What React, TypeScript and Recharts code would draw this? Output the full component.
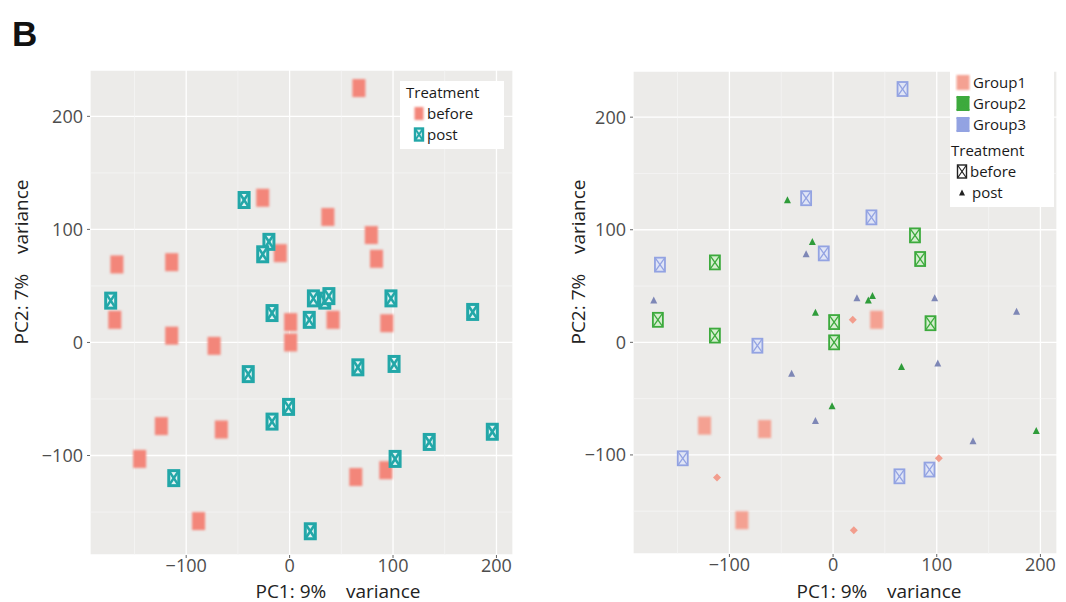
import React from "react";
import { CartesianGrid, ReferenceLine, Scatter, ScatterChart, XAxis, YAxis } from "recharts";

type Pt = { pc1: number; pc2: number };

// samples by group and treatment
const g1Before: Pt[] = [
  { pc1: -124, pc2: -74 },
  { pc1: -66, pc2: -77 },
  { pc1: -88, pc2: -158 },
  { pc1: 42, pc2: 20 },
];
const g1Post: Pt[] = [
  { pc1: 19, pc2: 20 },
  { pc1: 102, pc2: -103 },
  { pc1: -112, pc2: -120 },
  { pc1: 20, pc2: -167 },
];
const g2Before: Pt[] = [
  { pc1: -114, pc2: 71 },
  { pc1: 79, pc2: 95 },
  { pc1: 84, pc2: 74 },
  { pc1: -169, pc2: 20 },
  { pc1: -114, pc2: 6 },
  { pc1: 1, pc2: 18 },
  { pc1: 1, pc2: 0 },
  { pc1: 94, pc2: 17 },
];
const g2Post: Pt[] = [
  { pc1: -44, pc2: 126 },
  { pc1: -20, pc2: 89 },
  { pc1: -17, pc2: 26 },
  { pc1: 34, pc2: 37 },
  { pc1: 38, pc2: 41 },
  { pc1: 66, pc2: -22 },
  { pc1: -1, pc2: -57 },
  { pc1: 196, pc2: -79 },
];
const g3Before: Pt[] = [
  { pc1: 67, pc2: 225 },
  { pc1: -26, pc2: 128 },
  { pc1: 37, pc2: 111 },
  { pc1: -9, pc2: 79 },
  { pc1: -167, pc2: 69 },
  { pc1: -73, pc2: -3 },
  { pc1: -145, pc2: -103 },
  { pc1: 64, pc2: -119 },
  { pc1: 93, pc2: -113 },
];
const g3Post: Pt[] = [
  { pc1: -26, pc2: 78 },
  { pc1: -173, pc2: 37 },
  { pc1: 23, pc2: 39 },
  { pc1: 98, pc2: 39 },
  { pc1: 177, pc2: 27 },
  { pc1: 101, pc2: -19 },
  { pc1: -40, pc2: -28 },
  { pc1: -17, pc2: -70 },
  { pc1: 135, pc2: -88 },
];

const allBefore = [...g1Before, ...g2Before, ...g3Before];
const allPost = [...g1Post, ...g2Post, ...g3Post];

const xTicks = [-100, 0, 100, 200];
const yTicks = [-100, 0, 100, 200];
const xMinor = [-150, -50, 50, 150];
const yMinor = [-150, -50, 50, 150];
const xDomain: [number, number] = [-193, 216];
const yDomain: [number, number] = [-188, 241];

const FONT = "'Open Sans', 'Noto Sans', sans-serif";
const fmt = (v: number) => (v < 0 ? `\u2212${Math.abs(v)}` : String(v));

function SolidBox({ cx, cy, fill, w, h }: any) {
  if (cx == null || cy == null) return null;
  return (
    <rect x={cx - w / 2} y={cy - h / 2} width={w} height={h} fill={fill} style={{ filter: "blur(0.9px)" }} />
  );
}

function CrossBox({ cx, cy, color, fill, w, h, sw, dw }: any) {
  if (cx == null || cy == null) return null;
  const x0 = cx - w / 2;
  const y0 = cy - h / 2;
  return (
    <g>
      <rect x={x0} y={y0} width={w} height={h} fill={fill} stroke={color} strokeWidth={sw} />
      <line x1={x0} y1={y0} x2={x0 + w} y2={y0 + h} stroke={color} strokeWidth={dw} />
      <line x1={x0 + w} y1={y0} x2={x0} y2={y0 + h} stroke={color} strokeWidth={dw} />
    </g>
  );
}

function Tri({ cx, cy, color, s }: any) {
  if (cx == null || cy == null) return null;
  const pts = `${cx},${cy - s * 0.6} ${cx + s / 2},${cy + s * 0.4} ${cx - s / 2},${cy + s * 0.4}`;
  return <polygon points={pts} fill={color} />;
}

function Dot({ cx, cy, color }: any) {
  if (cx == null || cy == null) return null;
  return (
    <polygon
      points={`${cx},${cy - 4} ${cx + 4},${cy} ${cx},${cy + 4} ${cx - 4},${cy}`}
      fill={color}
      style={{ filter: "blur(0.6px)" }}
    />
  );
}

function Panel({
  left,
  width,
  top,
  right,
  yWidth,
  xHeight,
  children,
}: {
  left: number;
  width: number;
  top: number;
  right: number;
  yWidth: number;
  xHeight: number;
  children: React.ReactNode;
}) {
  return (
    <div style={{ position: "absolute", left, top: 0 }}>
      <ScatterChart width={width} height={602} margin={{ top, right, bottom: 0, left: 0 }}>
        <CartesianGrid fill="#ecebe9" stroke="#ffffff" strokeWidth={1.3} />
        {xMinor.map((v) => (
          <ReferenceLine key={`x${v}`} x={v} stroke="#f7f7f6" strokeWidth={0.7} />
        ))}
        {yMinor.map((v) => (
          <ReferenceLine key={`y${v}`} y={v} stroke="#f7f7f6" strokeWidth={0.7} />
        ))}
        <XAxis
          type="number"
          dataKey="pc1"
          domain={xDomain}
          ticks={xTicks}
          allowDataOverflow
          height={xHeight}
          axisLine={false}
          tickSize={3}
          tickMargin={1}
          tickLine={{ stroke: "#666" }}
          tickFormatter={fmt}
          tick={{ fill: "#4d4d4d", fontSize: 18, fontFamily: FONT }}
        />
        <YAxis
          type="number"
          dataKey="pc2"
          domain={yDomain}
          ticks={yTicks}
          allowDataOverflow
          width={yWidth}
          axisLine={false}
          tickSize={3}
          tickMargin={4}
          tickLine={{ stroke: "#666" }}
          tickFormatter={fmt}
          tick={{ fill: "#4d4d4d", fontSize: 18, fontFamily: FONT }}
        />
        {children}
      </ScatterChart>
    </div>
  );
}

const txt: React.CSSProperties = {
  position: "absolute",
  fontFamily: FONT,
  color: "#1a1a1a",
  whiteSpace: "pre",
};

const legTxt: React.CSSProperties = { ...txt, fontSize: 15, lineHeight: "21px" };

function KeySvg({ children }: { children: React.ReactNode }) {
  return (
    <svg width={16} height={21} style={{ display: "block" }}>
      {children}
    </svg>
  );
}

const groupKeys = [
  { label: "Group1", y: 72, key: <SolidBox cx={8} cy={10.5} fill="#f4a192" w={13} h={15} /> },
  {
    label: "Group2",
    y: 93,
    key: <CrossBox cx={8} cy={10.5} color="#3daa3d" fill="#3daa3d" w={12} h={14} sw={1} dw={2} />,
  },
  {
    label: "Group3",
    y: 114,
    key: <CrossBox cx={8} cy={10.5} color="#93a3e2" fill="#93a3e2" w={12} h={14} sw={1} dw={2} />,
  },
];

export default function App() {
  return (
    <div style={{ position: "absolute", left: 0, top: 0, width: 1066, height: 602, background: "#fff" }}>
      <Panel left={0} width={530} top={70} right={17} yWidth={90} xHeight={47}>
        <Scatter
          data={allBefore}
          isAnimationActive={false}
          shape={(p: any) => <SolidBox cx={p.cx} cy={p.cy} fill="#f3867a" w={13} h={18} />}
        />
        <Scatter
          data={allPost}
          isAnimationActive={false}
          shape={(p: any) => (
            <CrossBox cx={p.cx} cy={p.cy} color="#23a7a8" fill="#e4f5f5" w={10} h={15} sw={3} dw={2.6} />
          )}
        />
      </Panel>

      <Panel left={540} width={526} top={71} right={9} yWidth={93} xHeight={48}>
        <Scatter
          data={g1Before}
          isAnimationActive={false}
          shape={(p: any) => <SolidBox cx={p.cx} cy={p.cy} fill="#f4a192" w={13} h={18} />}
        />
        <Scatter
          data={g2Before}
          isAnimationActive={false}
          shape={(p: any) => (
            <CrossBox cx={p.cx} cy={p.cy} color="#3daa3d" fill="#d6eed0" w={10} h={14} sw={1.8} dw={1.3} />
          )}
        />
        <Scatter
          data={g3Before}
          isAnimationActive={false}
          shape={(p: any) => (
            <CrossBox cx={p.cx} cy={p.cy} color="#93a3e2" fill="#e0e5f6" w={10} h={14} sw={1.8} dw={1.3} />
          )}
        />
        <Scatter
          data={g1Post}
          isAnimationActive={false}
          shape={(p: any) => <Dot cx={p.cx} cy={p.cy} color="#f29d8d" />}
        />
        <Scatter
          data={g2Post}
          isAnimationActive={false}
          shape={(p: any) => <Tri cx={p.cx} cy={p.cy} color="#2f9c3a" s={7} />}
        />
        <Scatter
          data={g3Post}
          isAnimationActive={false}
          shape={(p: any) => <Tri cx={p.cx} cy={p.cy} color="#7e87b6" s={7} />}
        />
      </Panel>

      {/* panel letter */}
      <div
        style={{
          ...txt,
          left: 12,
          top: 14,
          fontFamily: "'Liberation Sans', Arial, sans-serif",
          fontWeight: 700,
          fontSize: 35,
          lineHeight: "40px",
          color: "#111",
        }}
      >
        B
      </div>

      {/* axis titles */}
      <div style={{ ...txt, left: 338, top: 591, fontSize: 19, color: "#222", transform: "translate(-50%,-50%)" }}>
        {"PC1: 9%    variance"}
      </div>
      <div style={{ ...txt, left: 879, top: 591, fontSize: 19, color: "#222", transform: "translate(-50%,-50%)" }}>
        {"PC1: 9%    variance"}
      </div>
      <div
        style={{ ...txt, left: 21, top: 262, fontSize: 19, color: "#222", transform: "translate(-50%,-50%) rotate(-90deg)" }}
      >
        {"PC2: 7%    variance"}
      </div>
      <div
        style={{ ...txt, left: 578, top: 262, fontSize: 19, color: "#222", transform: "translate(-50%,-50%) rotate(-90deg)" }}
      >
        {"PC2: 7%    variance"}
      </div>

      {/* left legend */}
      <div style={{ position: "absolute", left: 400, top: 81, width: 104, height: 68, background: "#fff" }} />
      <div style={{ ...legTxt, left: 406, top: 82 }}>Treatment</div>
      <div style={{ position: "absolute", left: 411, top: 103 }}>
        <KeySvg>
          <SolidBox cx={8} cy={10.5} fill="#f3867a" w={9} h={13} />
        </KeySvg>
      </div>
      <div style={{ ...legTxt, left: 427, top: 103 }}>before</div>
      <div style={{ position: "absolute", left: 411, top: 124 }}>
        <KeySvg>
          <CrossBox cx={8} cy={10.5} color="#23a7a8" fill="#e4f5f5" w={8} h={12} sw={2.4} dw={2} />
        </KeySvg>
      </div>
      <div style={{ ...legTxt, left: 427, top: 124 }}>post</div>

      {/* right legend */}
      <div style={{ position: "absolute", left: 950, top: 70, width: 104, height: 137, background: "#fff" }} />
      {groupKeys.map((g) => (
        <React.Fragment key={g.label}>
          <div style={{ position: "absolute", left: 955, top: g.y }}>
            <KeySvg>{g.key}</KeySvg>
          </div>
          <div style={{ ...legTxt, left: 973, top: g.y }}>{g.label}</div>
        </React.Fragment>
      ))}
      <div style={{ ...legTxt, left: 951, top: 140 }}>Treatment</div>
      <div style={{ position: "absolute", left: 954, top: 161 }}>
        <KeySvg>
          <CrossBox cx={8} cy={10.5} color="#222" fill="#fff" w={9} h={13} sw={1.4} dw={1.2} />
        </KeySvg>
      </div>
      <div style={{ ...legTxt, left: 970, top: 161 }}>before</div>
      <div style={{ position: "absolute", left: 954, top: 182 }}>
        <KeySvg>
          <Tri cx={8} cy={11} color="#222" s={6} />
        </KeySvg>
      </div>
      <div style={{ ...legTxt, left: 972, top: 182 }}>post</div>
    </div>
  );
}
